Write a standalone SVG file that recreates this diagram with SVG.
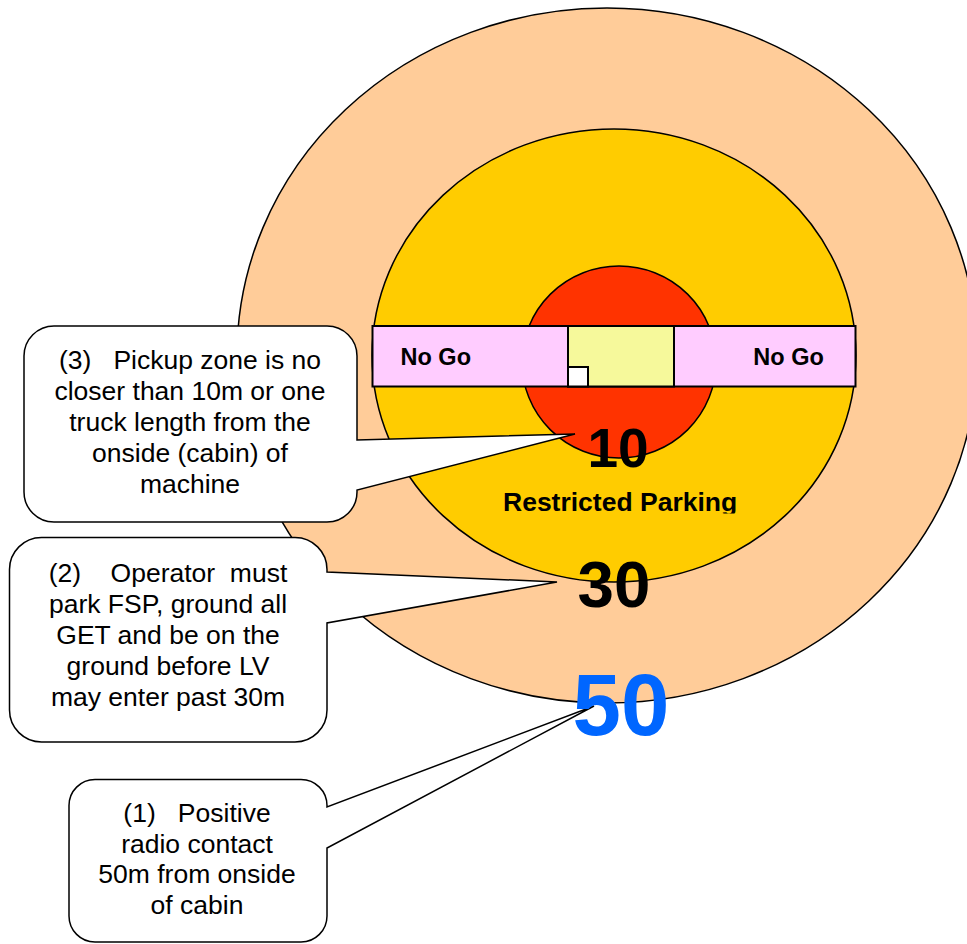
<svg xmlns="http://www.w3.org/2000/svg" width="967" height="944" viewBox="0 0 967 944">
<style>
.ring{stroke:#000;stroke-width:1.5}
.bar{stroke:#000;stroke-width:2}
.lbl{font-family:"Liberation Sans",Arial,sans-serif;font-weight:bold;fill:#000}
.note{font-family:"Liberation Sans",Arial,sans-serif;font-size:26.5px;fill:#000;text-anchor:middle}
.call{fill:#fff;stroke:#000;stroke-width:1.5;stroke-linejoin:miter}
.num{font-family:"Liberation Sans",Arial,sans-serif;font-weight:bold;text-anchor:middle}
</style>
<defs>
<clipPath id="rpclip"><rect x="490" y="470" width="300" height="43.5"/></clipPath>
</defs>
<rect width="967" height="944" fill="#fff"/>
<g id="zone50"><ellipse class="ring" cx="607" cy="355.5" rx="370" ry="347.5" fill="#FFCC99"/></g>
<g id="zone30"><ellipse class="ring" cx="614" cy="355.5" rx="242" ry="226.5" fill="#FFCC00"/></g>
<g id="zone10"><ellipse class="ring" cx="619" cy="362" rx="97" ry="96" fill="#FF3300"/></g>
<g id="nogo">
<rect class="bar" x="372.5" y="326" width="483" height="60.5" fill="#FFCCFF"/>
<text class="lbl" x="400.5" y="365" font-size="23.5">No Go</text>
<text class="lbl" x="753.3" y="365" font-size="23.5">No Go</text>
</g>
<g id="machine">
<rect class="bar" x="568" y="326" width="106" height="60.5" fill="#F6F99B"/>
<rect class="bar" x="568" y="367" width="20" height="19.5" fill="#fff"/>
</g>
<g id="restricted">
<text class="lbl" x="503" y="511" font-size="26.5" clip-path="url(#rpclip)">Restricted Parking</text>
</g>
<g id="connectors">
<g id="callout3">
<path class="call" d="M54,326 H327 A30 30 0 0 1 357,356 V440 L575,434 L357,490 V492 A30 30 0 0 1 327,522 H54 A30 30 0 0 1 24,492 V356 A30 30 0 0 1 54,326 Z"/>
<text class="note" xml:space="preserve"><tspan x="190" y="369">(3)   Pickup zone is no</tspan><tspan x="190" y="400">closer than 10m or one</tspan><tspan x="190" y="431">truck length from the</tspan><tspan x="190" y="462">onside (cabin) of</tspan><tspan x="190" y="493">machine</tspan></text>
</g>
<g id="callout2">
<path class="call" d="M41.5,537.5 H295 A32 32 0 0 1 327,569.5 V572 L557,582 L327,623 V710 A32 32 0 0 1 295,742 H41.5 A32 32 0 0 1 9.5,710 V569.5 A32 32 0 0 1 41.5,537.5 Z"/>
<text class="note" xml:space="preserve"><tspan x="168" y="582">(2)    Operator  must</tspan><tspan x="168" y="613">park FSP, ground all</tspan><tspan x="168" y="644">GET and be on the</tspan><tspan x="168" y="675">ground before LV</tspan><tspan x="168" y="706">may enter past 30m</tspan></text>
</g>
<g id="callout1">
<path class="call" d="M95,779.5 H301 A26 26 0 0 1 327,805.5 V807 L594,706 L327,848 V916 A26 26 0 0 1 301,942 H95 A26 26 0 0 1 69,916 V805.5 A26 26 0 0 1 95,779.5 Z"/>
<text class="note" xml:space="preserve"><tspan x="197" y="822">(1)   Positive</tspan><tspan x="197" y="852.5">radio contact</tspan><tspan x="197" y="883">50m from onside</tspan><tspan x="197" y="913.5">of cabin</tspan></text>
</g>
</g>
<g id="labels">
<text class="num" x="618" y="467" font-size="55" fill="#000">10</text>
<text class="num" x="614" y="607" font-size="65.5" fill="#000">30</text>
<text class="num" x="621" y="735" font-size="87" fill="#0066FF">50</text>
</g>
</svg>
